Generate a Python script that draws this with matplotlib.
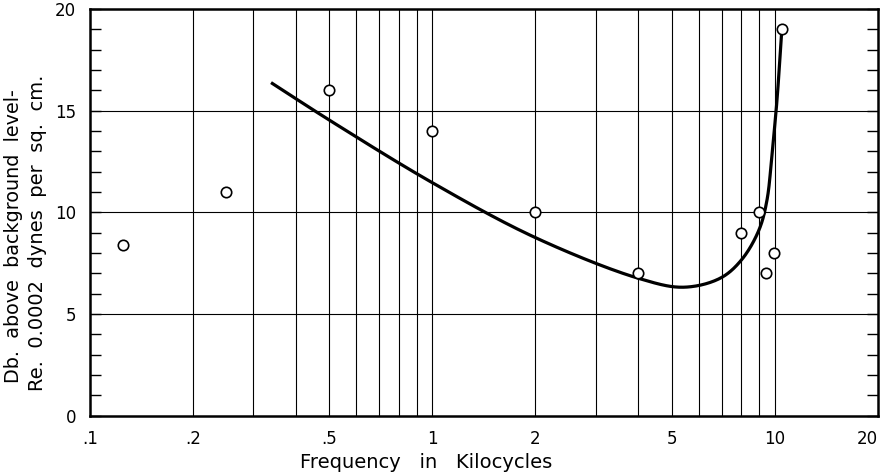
import matplotlib
matplotlib.use("Agg")
import matplotlib.pyplot as plt
import numpy as np

# measured points (kc, db)
freq_pts = [0.125, 0.25, 0.5, 1.0, 2.0, 4.0, 8.0, 9.0, 9.45, 9.95, 10.5]
db_pts = [8.4, 11.0, 16.0, 14.0, 10.0, 7.0, 9.0, 10.0, 7.0, 8.0, 19.0]

# fitted curve
curve_f = [0.338, 0.5, 1.0, 2.0, 4.0, 5.41, 6.93, 8.0, 9.0, 9.5, 9.85, 10.16, 10.49]
curve_db = [16.38, 14.54, 11.46, 8.76, 6.76, 6.32, 6.76, 7.66, 9.13, 10.6, 13.07, 15.5, 18.9]

grid_x = [0.2, 0.3, 0.4, 0.5, 0.6, 0.7, 0.8, 0.9, 1, 2, 3, 4, 5, 6, 7, 8, 9, 10]
xtick_vals = [0.1, 0.2, 0.5, 1, 2, 5, 10, 20]
xtick_text = [".1", ".2", ".5", "1", "2", "5", "10", "20"]
ytick_vals = [0, 5, 10, 15, 20]


def centripetal_cr(xs, ys, n=40, alpha=0.5):
    # centripetal catmull-rom through the points
    P = np.column_stack([xs, ys]).astype(float)
    P = np.vstack([2 * P[0] - P[1], P, 2 * P[-1] - P[-2]])
    out = []
    for i in range(1, len(P) - 2):
        p0, p1, p2, p3 = P[i - 1], P[i], P[i + 1], P[i + 2]
        t0 = 0.0
        t1 = t0 + np.linalg.norm(p1 - p0) ** alpha
        t2 = t1 + np.linalg.norm(p2 - p1) ** alpha
        t3 = t2 + np.linalg.norm(p3 - p2) ** alpha
        t = np.linspace(t1, t2, n, endpoint=False)[:, None]
        a1 = (t1 - t) / (t1 - t0) * p0 + (t - t0) / (t1 - t0) * p1
        a2 = (t2 - t) / (t2 - t1) * p1 + (t - t1) / (t2 - t1) * p2
        a3 = (t3 - t) / (t3 - t2) * p2 + (t - t2) / (t3 - t2) * p3
        b1 = (t2 - t) / (t2 - t0) * a1 + (t - t0) / (t2 - t0) * a2
        b2 = (t3 - t) / (t3 - t1) * a2 + (t - t1) / (t3 - t1) * a3
        c = (t2 - t) / (t2 - t1) * b1 + (t - t1) / (t2 - t1) * b2
        out.append(c)
    out.append(P[-2][None, :])
    return np.vstack(out)


fig = plt.figure(figsize=(8.84, 4.73), dpi=100)
ax = fig.add_axes([0.1018, 0.121, 0.891, 0.860])

ax.set_xscale("log")
ax.set_xlim(0.1, 20)
ax.set_ylim(0, 20)

for gx in grid_x:
    ax.axvline(gx, color="black", lw=0.8, zorder=1)
for gy in [5, 10, 15]:
    ax.axhline(gy, color="black", lw=0.8, zorder=1)

# smooth in a roughly pixel-scaled space (log x)
sc_x, sc_y = 342.0, 20.3
pts = centripetal_cr(np.log10(curve_f) * sc_x, np.array(curve_db) * sc_y)
ax.plot(10 ** (pts[:, 0] / sc_x), pts[:, 1] / sc_y, color="black", lw=2.3,
        zorder=3, solid_capstyle="butt")

ax.plot(freq_pts, db_pts, "o", ms=7.5, mfc="white", mec="black", mew=1.2, zorder=4)

ax.set_xticks(xtick_vals)
ax.set_xticklabels(xtick_text)
ax.xaxis.set_minor_locator(matplotlib.ticker.NullLocator())
ax.set_yticks(ytick_vals)
ax.set_yticks(range(0, 21), minor=True)

ax.tick_params(axis="x", which="both", length=0, pad=10, labelsize=12)
ax.tick_params(axis="y", which="both", direction="in", length=8, width=1,
               left=True, right=True, labelsize=12, pad=10)
lbl = ax.get_xticklabels()[-1]
lbl.set_horizontalalignment("right")

for sp in ax.spines.values():
    sp.set_linewidth(1.8)

fig.text(426 / 884, 1 - 462 / 473, "Frequency   in   Kilocycles",
         ha="center", va="center", fontsize=14)
fig.text(14 / 884, 1 - 236 / 473, "Db.  above  background  level-",
         rotation=90, ha="center", va="center", fontsize=13.8)
fig.text(38 / 884, 1 - 233 / 473, "Re.  0.0002  dynes  per  sq.  cm.",
         rotation=90, ha="center", va="center", fontsize=14)

fig.savefig("out.png", dpi=100)
